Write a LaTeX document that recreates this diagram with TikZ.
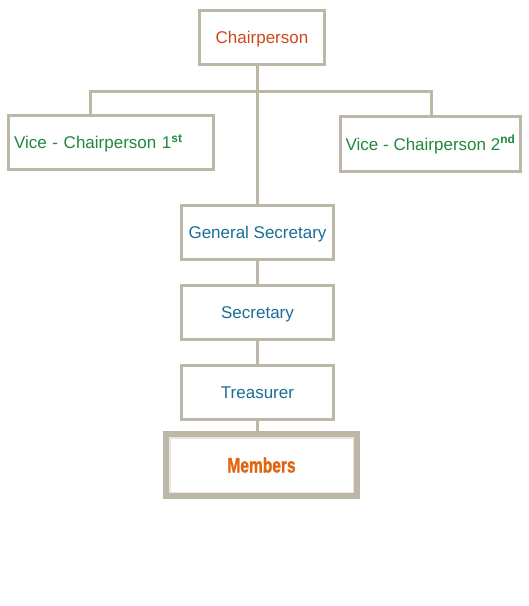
\documentclass[tikz,border=0pt]{standalone}
\usepackage{fontspec}
\setmainfont{Liberation Sans}
\newfontfamily\narrowbold[FakeStretch=0.74,FakeBold=1.2]{Liberation Sans Bold}
\definecolor{boxgray}{HTML}{BDB7A7}
\definecolor{chairred}{HTML}{D0461C}
\definecolor{vicegreen}{HTML}{1E8A3C}
\definecolor{secblue}{HTML}{1B6E96}
\definecolor{memorange}{HTML}{E0670F}
\tikzset{
  post/.style={draw=boxgray,line width=3pt,fill=white,minimum height=54pt,
    inner sep=0pt,text height=12.2pt,text depth=0pt,font=\fontsize{17}{20}\selectfont},
  link/.style={draw=boxgray,line width=3pt}
}
\begin{document}
\begin{tikzpicture}[x=1pt,y=-1pt,line cap=butt,line join=miter]
\useasboundingbox (0,0) rectangle (529,606);

% --- connectors first, boxes on top ---
\coordinate (busL) at (90,91);
\coordinate (busM) at (257,91);
\coordinate (busR) at (431,91);

% --- boxes ---
\node[post,minimum width=125pt,text=chairred] (chair) at (262,37.5) {Chairperson};
\node[post,text width=194pt,inner xsep=5.5pt,align=left,text=vicegreen] (viceA) at (111,142.5)
  {Vice - Chairperson 1\textsuperscript{\bfseries st}};
\node[post,minimum width=180pt,minimum height=55pt,text=vicegreen] (viceB) at (430.5,144)
  {Vice - Chairperson 2\textsuperscript{\bfseries nd}};
\node[post,minimum width=152pt,text=secblue] (gensec) at (257.5,232.5) {General Secretary};
\node[post,minimum width=152pt,text=secblue] (sec) at (257.5,312.5) {Secretary};
\node[post,minimum width=152pt,text=secblue] (treas) at (257.5,392.5) {Treasurer};
\node[draw=boxgray,line width=6pt,outer sep=0pt,fill=white,minimum width=191pt,minimum height=62pt,
  inner sep=0pt,text height=15pt,text depth=0pt,text=memorange,
  font=\narrowbold\fontsize{21}{24}\selectfont]
  (members) at (261.5,465) {Members};
\draw[draw=boxgray!35,line width=1.5pt] ([shift={(3.75,-3.75)}]members.south west) rectangle ([shift={(-3.75,3.75)}]members.north east);

% --- lines ---
\draw[link] (gensec.north -| busM) -- (chair.south -| busM);
\draw[link] (busL |- viceA.north) -- (busL) -- (busR) -- (busR |- viceB.north);
\draw[link] (gensec.south -| busM) -- (sec.north -| busM);
\draw[link] (sec.south -| busM) -- (treas.north -| busM);
\draw[link] (treas.south -| busM) -- ([yshift=-3pt]members.north -| busM);
\end{tikzpicture}
\end{document}
